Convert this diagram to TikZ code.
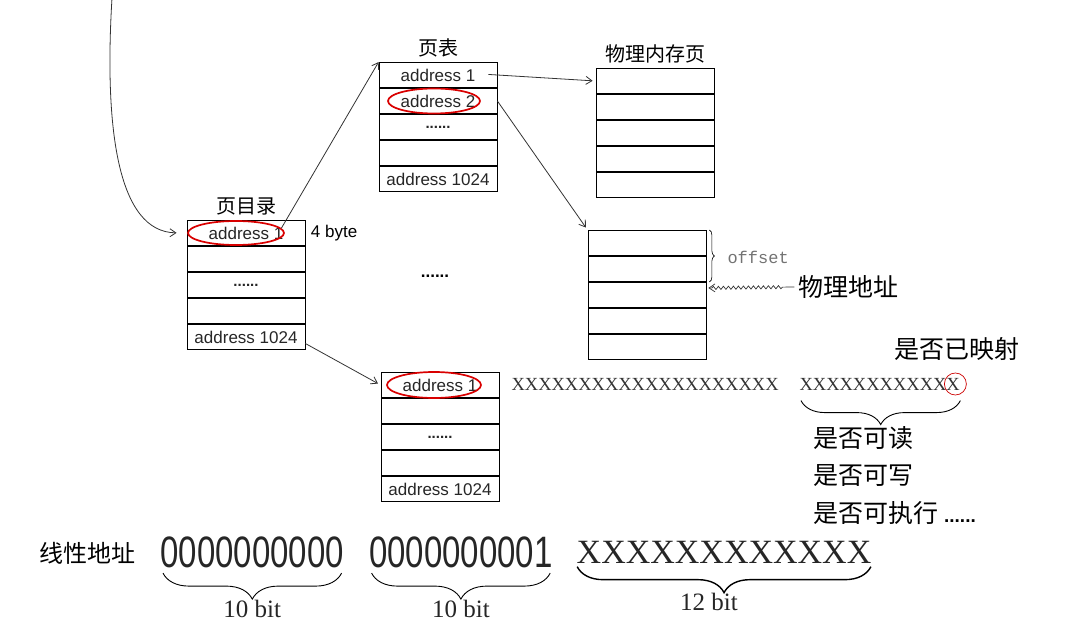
\documentclass[tikz,border=0pt]{standalone}
\usepackage{fontspec}
\setmainfont{Liberation Sans}
\newfontfamily\cjk{Noto Sans CJK SC}
\newfontfamily\serifx{Liberation Serif}
\newfontfamily\monox{Liberation Mono}
\usetikzlibrary{calc,positioning,arrows.meta,decorations.pathreplacing,
                decorations.pathmorphing,shapes.geometric}
\newcommand{\fsz}[1]{\fontsize{#1}{#1}\selectfont}
\tikzset{
  cell/.style={draw, line width=0.8pt, minimum width=118pt, minimum height=25.2pt,
               inner sep=0pt, anchor=north, font=\fsz{17}, text=black!85},
  link/.style={line width=0.8pt, black!80, -{Straight Barb[length=6pt,width=8pt]}},
  wavy/.style={line width=0.7pt, black!80, -{Straight Barb[length=6pt,width=8pt]},
               decorate, decoration={snake, amplitude=1.6pt, segment length=5pt,
               pre length=12pt, post length=4pt}},
  ring/.style={draw=red!85!black, line width=1.7pt, ellipse, inner sep=0pt},
  tlabel/.style={font=\cjk\fsz{20}},
  note/.style={font=\cjk\fsz{25}},
  bitsx/.style={font=\serifx\fsz{18.5}, text=black!80},
  bigd/.style={font=\fsz{44}, text=black!85},
  bitlabel/.style={font=\serifx\fsz{25}, text=black!85},
  bbrace/.style={decorate, decoration={brace, mirror, amplitude=26pt}, line width=0.9pt},
  dots/.style={font=\bfseries\fsz{15}},
}

\begin{document}
\begin{tikzpicture}[x=1pt, y=-1pt]
  \useasboundingbox (0,0) rectangle (1080,639);

  % page directory
  \node[cell] (pd1) at (246,220) {address 1};
  \node[cell, below=0pt of pd1] (pd2) {};
  \node[cell, below=0pt of pd2, dots] (pd3) {......};
  \node[cell, below=0pt of pd3] (pd4) {};
  \node[cell, below=0pt of pd4] (pd5) {address 1024};
  \node[tlabel, above=1pt of pd1] (pdlabel) {页目录};
  \node[font=\fsz{17}, right=2pt of pd1] (bytes) {4 byte};
  \node[ring, minimum width=96pt, minimum height=24pt] (pdring) at ($(pd1)+(-10,0)$) {};

  % page table (upper)
  \node[cell] (pt1) at (438,62) {address 1};
  \node[cell, below=0pt of pt1] (pt2) {address 2};
  \node[cell, below=0pt of pt2, dots] (pt3) {......};
  \node[cell, below=0pt of pt3] (pt4) {};
  \node[cell, below=0pt of pt4] (pt5) {address 1024};
  \node[tlabel, above=1pt of pt1] (ptlabel) {页表};
  \node[ring, minimum width=92pt, minimum height=25pt] (ptring) at ($(pt2)+(-4,0)$) {};

  % page table (lower)
  \node[cell] (pu1) at (440,372) {address 1};
  \node[cell, below=0pt of pu1] (pu2) {};
  \node[cell, below=0pt of pu2, dots] (pu3) {......};
  \node[cell, below=0pt of pu3] (pu4) {};
  \node[cell, below=0pt of pu4] (pu5) {address 1024};
  \node[ring, minimum width=94pt, minimum height=26pt] (puring) at ($(pu1)+(-6,0)$) {};

  % physical pages
  \node[cell] (pm1) at (655,68) {};
  \foreach \i [count=\j from 2] in {1,...,4}
    \node[cell, below=0pt of pm\i] (pm\j) {};
  \node[tlabel, above=1pt of pm1] (pmlabel) {物理内存页};

  \node[cell] (pp1) at (647,230) {};
  \foreach \i [count=\j from 2] in {1,...,4}
    \node[cell, below=0pt of pp\i] (pp\j) {};

  \node[font=\bfseries\fsz{17}] (middots) at (435,276) {......};

  % connectors
  \coordinate (entry) at (112,-2);
  \draw[link, shorten >=10pt] (entry) .. controls (104,130) and (118,232) .. (pd1.west);
  \draw[link] (pdring.6) -- (pt1.north west);
  \draw[link, shorten <=-9pt, shorten >=3pt] (pt1.east) -- (pm1.west);
  \draw[link, shorten >=3pt] (pt2.east) -- (pp1.north west);
  \draw[link, shorten >=3pt] ($(pd5.east)!0.5!(pd5.south east)$) -- (pu1.west);

  % offset / physical address
  \draw[decorate, decoration={brace, amplitude=5pt}, line width=0.6pt]
    ($(pp1.north east)+(3,0)$) -- ($(pp2.south east)+(3,0)$);
  \node[font=\monox\fsz{17}, text=black!55, anchor=west] (offset) at (724,257) {offset};
  \node[note] (paddr) at (848,287) {物理地址};
  \draw[wavy, shorten >=2pt] (paddr.west) -- ($(pp3.north east)+(0,6)$);

  % page table entry bits
  \node[bitsx, anchor=west] (bits1) at (508,384) {XXXXXXXXXXXXXXXXXXXX};
  \node[bitsx, anchor=west] (bits2) at (796,384) {XXXXXXXXXXXX};
  \node[draw=red!80!black, circle, minimum size=22pt, line width=0.7pt]
    (mapring) at ($(bits2.east)+(-8,0)$) {};
  \node[note] (mapped) at (957,349) {是否已映射};
  \draw[bbrace, decoration={amplitude=24pt}] ($(bits2.south west)+(5,7)$) -- ($(bits2.south east)+(-3,7)$);
  \node[note, anchor=west] (canread) at (810,438) {是否可读};
  \node[note, anchor=west] (canwrite) at (810,476) {是否可写};
  \node[note, anchor=west] (canexec) at (810,513) {是否可执行 {\rmfamily\bfseries\fsz{19}......}};

  % linear address
  \node[note, font=\cjk\fsz{24}] (linear) at (87,553) {线性地址};
  \node[bigd, anchor=west] (dirbits) at (157,552) {\scalebox{0.75}[1]{0000000000}};
  \node[bigd, right=18pt of dirbits] (tblbits) {\scalebox{0.75}[1]{0000000001}};
  \node[font=\serifx\fsz{34}, text=black!85, right=17pt of tblbits] (offbits) {XXXXXXXXXXXX};
  \draw[bbrace] ($(dirbits.south west)+(6,2)$) -- ($(dirbits.south east)+(-6,2)$);
  \draw[bbrace] ($(tblbits.south west)+(6,2)$) -- ($(tblbits.south east)+(-6,2)$);
  \draw[bbrace, line width=1.4pt] ($(offbits.south west)+(4,0)$) -- ($(offbits.south east)+(-4,0)$);
  \node[bitlabel] (dirlen) at ($(dirbits.south)+(0,38)$) {10 bit};
  \node[bitlabel] (tbllen) at ($(tblbits.south)+(0,38)$) {10 bit};
  \node[bitlabel] (offlen) at ($(offbits.south)+(-15,35)$) {12 bit};
\end{tikzpicture}
\end{document}
